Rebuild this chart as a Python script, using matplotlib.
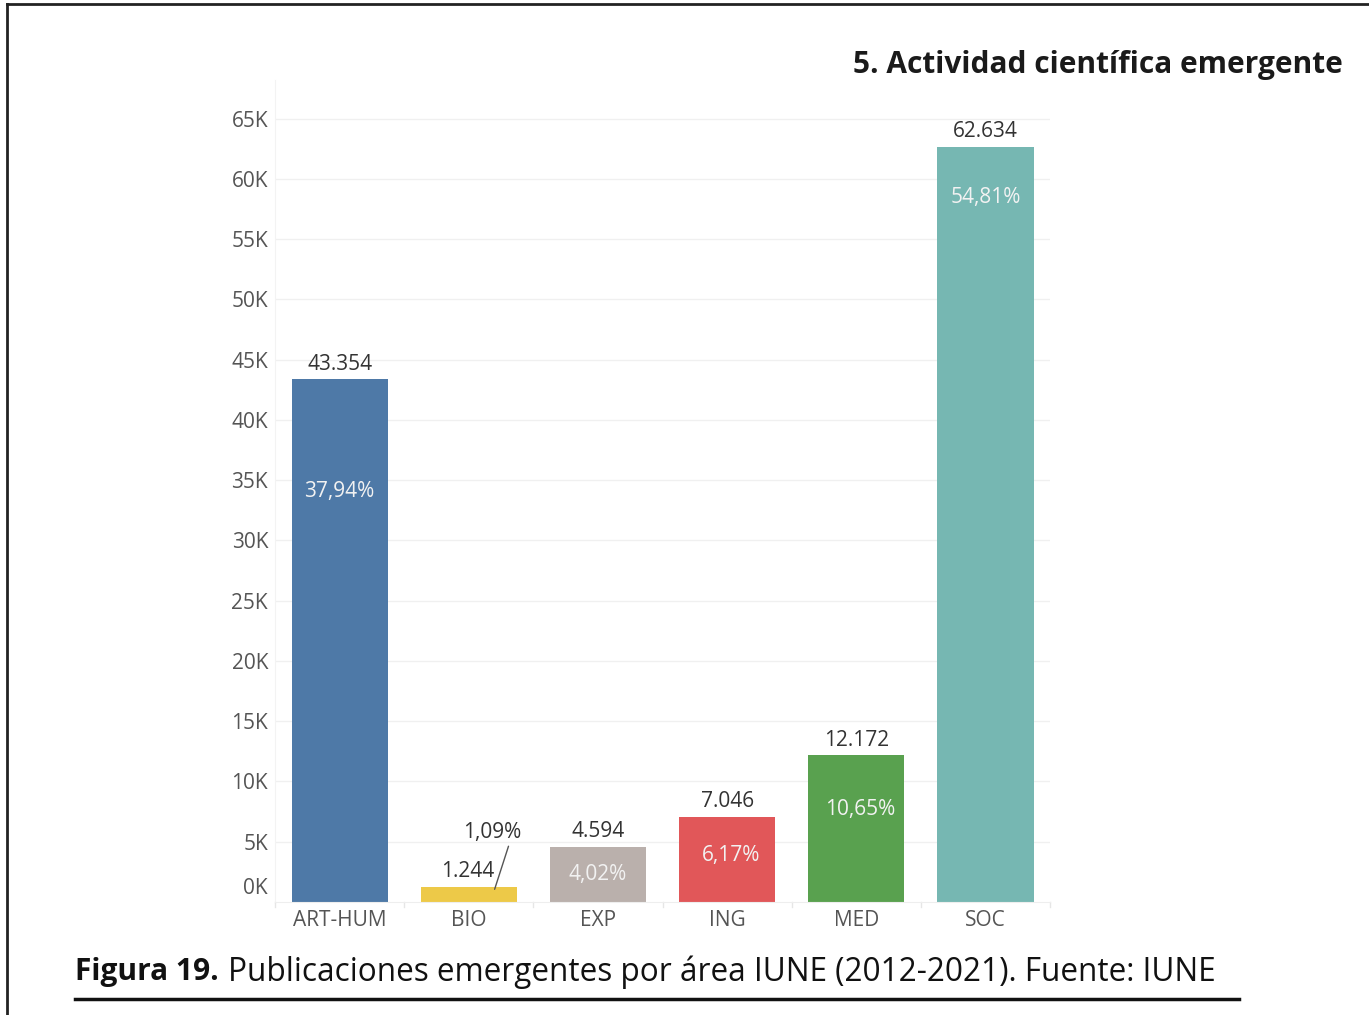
import matplotlib.pyplot as plt
from matplotlib.lines import Line2D

# Publicaciones emergentes por área IUNE (2012-2021)
areas = ["ART-HUM", "BIO", "EXP", "ING", "MED", "SOC"]
publicaciones = [43354, 1244, 4594, 7046, 12172, 62634]
porcentajes = ["37,94%", "1,09%", "4,02%", "6,17%", "10,65%", "54,81%"]
colores = ["#4e79a7", "#edc948", "#bab0ac", "#e15759", "#59a14f", "#76b7b2"]
y_ticks = list(range(5000, 70000, 5000))

plt.rcParams["font.family"] = ["Open Sans", "DejaVu Sans"]
fs = 15

fig = plt.figure(figsize=(13.69, 10.15), dpi=100)
ax = fig.add_axes([0.2009, 0.1113, 0.5661, 0.8099])

x = range(len(areas))
bars = ax.bar(x, publicaciones, width=0.745, color=colores, zorder=2)

ax.set_xlim(-0.5, len(areas) - 0.5)
ax.set_ylim(0, 68200)
ax.set_yticks(y_ticks)
ax.set_yticklabels([f"{int(v / 1000)}K" for v in y_ticks])
ax.grid(axis="y", color="#f0f0f0", linewidth=1, zorder=0)
ax.tick_params(axis="y", length=0, pad=5, labelsize=fs, labelcolor="#555555")
ax.set_xticks(list(x))
ax.set_xticklabels(areas)
ax.tick_params(axis="x", length=0, pad=6, labelsize=fs, labelcolor="#555555")

# marcas suaves entre categorías
for b in [i - 0.5 for i in range(len(areas) + 1)]:
    ax.plot([b, b], [0, -0.006], transform=ax.get_xaxis_transform(),
            color="#e6e6e6", lw=1, clip_on=False)

for side in ["top", "right"]:
    ax.spines[side].set_visible(False)
ax.spines["left"].set_color("#f3f3f3")
ax.spines["bottom"].set_color("#eeeeee")

# la etiqueta 0K va un poco más arriba
ax.annotate("0K", xy=(0, 0), xycoords=("axes fraction", "data"),
            xytext=(-5, 10), textcoords="offset points", ha="right",
            va="center", fontsize=fs, color="#555555")

# valores sobre las barras
for i, v in enumerate(publicaciones):
    if areas[i] == "BIO":
        continue
    etiqueta = f"{v:,}".replace(",", ".")
    ax.annotate(etiqueta, xy=(i, v), xytext=(0, 11), textcoords="offset points",
                ha="center", va="center", fontsize=fs, color="#333333")

# porcentajes dentro de las barras (desplazamiento desde el borde superior)
desplaz = [-81, 0, -20, -28, -39, -36]
for i, v in enumerate(publicaciones):
    if areas[i] == "BIO":
        continue
    dx = 3 if areas[i] in ("ING", "MED") else 0
    ax.annotate(porcentajes[i], xy=(i, v), xytext=(dx, desplaz[i]),
                textcoords="offset points", ha="center", va="center",
                fontsize=fs, color="#f2f2f2")

# BIO: valor y porcentaje con línea guía
ib = areas.index("BIO")
vb = publicaciones[ib]
ax.annotate(f"{vb:,}".replace(",", "."), xy=(ib, vb),
            xytext=(-1, 11), textcoords="offset points", ha="center", va="center",
            fontsize=fs, color="#333333")
ax.annotate("", xy=(ib + 0.2, vb * 0.85), xytext=(10, 31),
            textcoords="offset points",
            arrowprops=dict(arrowstyle="-", color="#555555", lw=1,
                            shrinkA=0, shrinkB=0))
ax.annotate(porcentajes[ib], xy=(ib + 0.2, vb * 0.85), xytext=(-1.5, 41),
            textcoords="offset points", ha="center", va="center",
            fontsize=fs, color="#333333")

fig.text(0.981, 0.936, "5. Actividad científica emergente", ha="right", va="center",
         fontsize=21.5, fontweight="bold", color="#1a1a1a")

fig.text(0.055, 0.042, "Figura 19.", ha="left", va="center", fontsize=21.5,
         fontweight="bold", color="#111111")
fig.text(0.1665, 0.042, "Publicaciones emergentes por área IUNE (2012-2021). Fuente: IUNE",
         ha="left", va="center", fontsize=22.7, color="#111111")

# línea bajo el pie y marco
fig.add_artist(Line2D([0.055, 0.905], [0.016, 0.016], color="#111111", lw=2.5))
fig.add_artist(Line2D([0.005, 1.0], [0.996, 0.996], color="#222222", lw=2))
fig.add_artist(Line2D([0.005, 0.005], [0.0, 0.996], color="#222222", lw=2))

fig.savefig("out.png", dpi=100)
